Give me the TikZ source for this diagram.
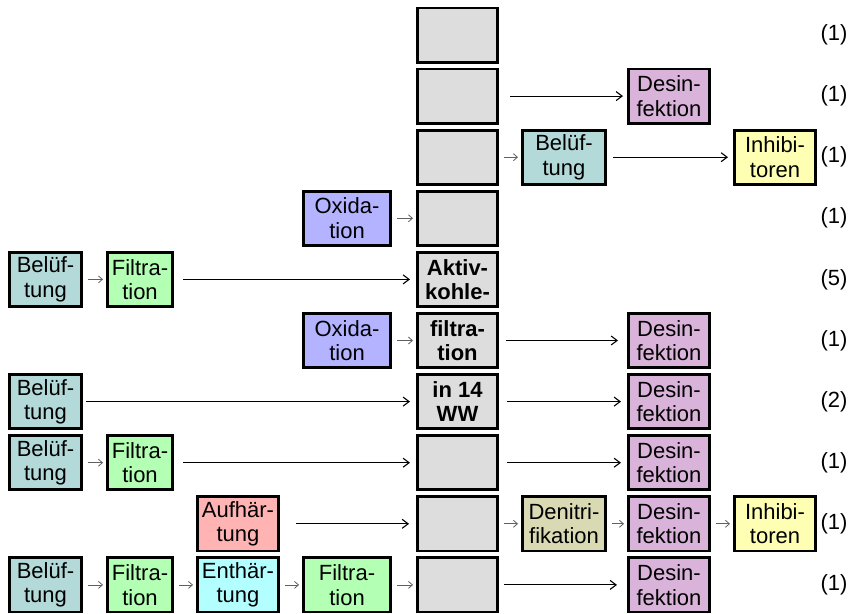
\documentclass[tikz,border=0pt]{standalone}
\usepackage{fontspec}
\setmainfont{Liberation Sans}
\usepackage{xcolor}
\usepackage{tikz}
\usetikzlibrary{arrows.meta}
\definecolor{Belueft}{HTML}{B3D9D9}
\definecolor{Filt}{HTML}{B3FFB3}
\definecolor{Oxid}{HTML}{B3B3FF}
\definecolor{Grau}{HTML}{DDDDDD}
\definecolor{Desinf}{HTML}{D9B3D9}
\definecolor{Inhib}{HTML}{FFFFB3}
\definecolor{Aufh}{HTML}{FFB3B3}
\definecolor{Enth}{HTML}{B3FFFF}
\definecolor{Denit}{HTML}{D9D9B3}
\definecolor{Muted}{HTML}{606060}
\tikzset{
  box/.style={draw=black,line width=2.8pt,inner sep=0pt,minimum height=54.2pt,
    align=center,font=\fontsize{22}{24.5}\selectfont},
  stage/.style={box,fill=Grau,minimum width=80.2pt,font=\fontsize{22}{24.5}\selectfont\bfseries},
  flow/.style={-{Straight Barb[length=6pt,width=9pt]},line width=1.1pt,shorten <=8pt,shorten >=6pt},
  link/.style={-{Straight Barb[length=4pt,width=7pt]},Muted,line width=0.8pt,shorten <=5pt,shorten >=3pt},
  count/.style={font=\fontsize{22}{24.5}\selectfont}
}

\begin{document}
\begin{tikzpicture}[x=1pt,y=-1pt]
  \useasboundingbox (0,0) rectangle (853,613);
  % Aktivkohle column
  \node[stage] (g1) at (457.5,35) {};
  \node[stage] (g2) at (457.5,96.1) {};
  \node[stage] (g3) at (457.5,157.2) {};
  \node[stage] (g4) at (457.5,218.3) {};
  \node[stage] (g5) at (457.5,279.4) {Aktiv-\\kohle-};
  \node[stage] (g6) at (457.5,340.5) {filtra-\\tion};
  \node[stage] (g7) at (457.5,401.6) {in 14\\WW};
  \node[stage] (g8) at (457.5,462.7) {};
  \node[stage] (g9) at (457.5,523.8) {};
  \node[stage] (g10) at (457.5,584.9) {};

  % row 2
  \node[box,fill=Desinf,minimum width=81.2pt] (des2) at (669,96.1) {Desin-\\fektion};
  \draw[flow,shorten <=11pt,shorten >=4pt] (g2.east) -- (des2.west);

  % row 3
  \node[box,fill=Belueft,minimum width=83.2pt] (bel3) at (564,157.2) {Belüf-\\tung};
  \node[box,fill=Inhib,minimum width=81.2pt] (ini3) at (775,157.2) {Inhibi-\\toren};
  \draw[link] (g3.east) -- (bel3.west);
  \draw[flow,shorten <=6pt,shorten >=5pt] (bel3.east) -- (ini3.west);

  % row 4
  \node[box,fill=Oxid,minimum width=87.2pt] (oxi4) at (347,218.3) {Oxida-\\tion};
  \draw[link] (oxi4.east) -- (g4.west);

  % row 5
  \node[box,fill=Belueft,minimum width=72.2pt] (bel5) at (45.5,279.4) {Belüf-\\tung};
  \node[box,fill=Filt,minimum width=65.2pt] (fil5) at (140,279.4) {Filtra-\\tion};
  \draw[link] (bel5.east) -- (fil5.west);
  \draw[flow,shorten <=9pt] (fil5.east) -- (g5.west);

  % row 6
  \node[box,fill=Oxid,minimum width=87.2pt] (oxi6) at (347,340.5) {Oxida-\\tion};
  \node[box,fill=Desinf,minimum width=81.2pt] (des6) at (669,340.5) {Desin-\\fektion};
  \draw[link] (oxi6.east) -- (g6.west);
  \draw[flow,shorten <=7pt,shorten >=9pt] (g6.east) -- (des6.west);

  % row 7
  \node[box,fill=Belueft,minimum width=72.2pt] (bel7) at (45.5,401.6) {Belüf-\\tung};
  \node[box,fill=Desinf,minimum width=81.2pt] (des7) at (669,401.6) {Desin-\\fektion};
  \draw[flow,shorten <=3pt] (bel7.east) -- (g7.west);
  \draw[flow,shorten <=8pt] (g7.east) -- (des7.west);

  % row 8
  \node[box,fill=Belueft,minimum width=72.2pt] (bel8) at (45.5,462.7) {Belüf-\\tung};
  \node[box,fill=Filt,minimum width=65.2pt] (fil8) at (140,462.7) {Filtra-\\tion};
  \node[box,fill=Desinf,minimum width=81.2pt] (des8) at (669,462.7) {Desin-\\fektion};
  \draw[link] (bel8.east) -- (fil8.west);
  \draw[flow,shorten <=9pt] (fil8.east) -- (g8.west);
  \draw[flow] (g8.east) -- (des8.west);

  % row 9
  \node[box,fill=Aufh,minimum width=81.2pt] (auf9) at (238,523.8) {Aufhär-\\tung};
  \node[box,fill=Denit,minimum width=83.2pt] (den9) at (564,523.8) {Denitri-\\fikation};
  \node[box,fill=Desinf,minimum width=81.2pt] (des9) at (669,523.8) {Desin-\\fektion};
  \node[box,fill=Inhib,minimum width=81.2pt] (ini9) at (775,523.8) {Inhibi-\\toren};
  \draw[flow,shorten <=16pt,shorten >=7pt] (auf9.east) -- (g9.west);
  \draw[link] (g9.east) -- (den9.west);
  \draw[link] (den9.east) -- (des9.west);
  \draw[link] (des9.east) -- (ini9.west);

  % row 10
  \node[box,fill=Belueft,minimum width=72.2pt] (bel10) at (45.5,584.9) {Belüf-\\tung};
  \node[box,fill=Filt,minimum width=65.2pt] (fil10) at (140,584.9) {Filtra-\\tion};
  \node[box,fill=Enth,minimum width=81.2pt] (ent10) at (238,584.9) {Enthär-\\tung};
  \node[box,fill=Filt,minimum width=87.2pt] (fila10) at (347,584.9) {Filtra-\\tion};
  \node[box,fill=Desinf,minimum width=81.2pt] (des10) at (669,584.9) {Desin-\\fektion};
  \draw[link] (bel10.east) -- (fil10.west);
  \draw[link] (fil10.east) -- (ent10.west);
  \draw[link] (ent10.east) -- (fila10.west);
  \draw[link] (fila10.east) -- (g10.west);
  \draw[flow,shorten <=5pt,shorten >=10pt] (g10.east) -- (des10.west);

  % number of plants
  \foreach \r/\y/\n in {1/35/1,2/96.1/1,3/157.2/1,4/218.3/1,5/279.4/5,
      6/340.5/1,7/401.6/2,8/462.7/1,9/523.8/1,10/584.9/1}
    \node[count] (cnt\r) at (834,\y) {(\n)};
\end{tikzpicture}
\end{document}
